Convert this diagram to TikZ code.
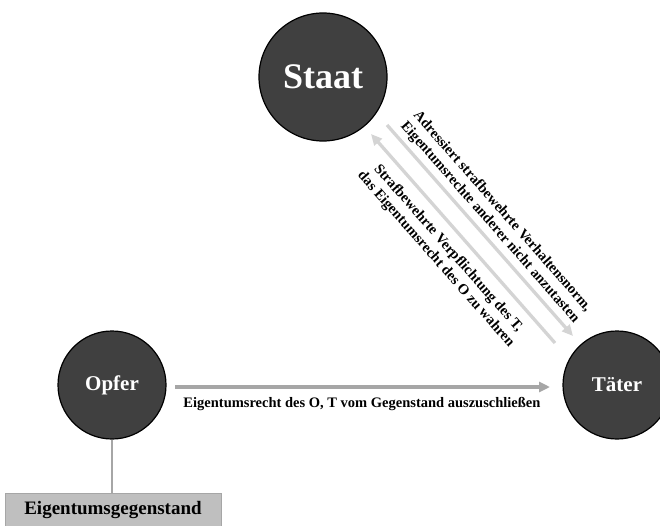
\documentclass[tikz,border=0pt]{standalone}
\usepackage{fontspec}
\setmainfont{Liberation Serif}
\usetikzlibrary{arrows.meta}
\definecolor{disc}{HTML}{404040}
\definecolor{flowgray}{HTML}{A6A6A6}
\definecolor{normgray}{HTML}{D4D4D4}
\definecolor{itemgray}{HTML}{BFBFBF}
\definecolor{itemline}{HTML}{A6A6A6}

\begin{document}
\begin{tikzpicture}[x=1pt,y=-1pt,
  party/.style={circle, draw=black, line width=1.2pt, fill=disc, text=white,
    inner sep=0pt},
  flow/.style={draw=flowgray, line width=3.3pt, -{Triangle[length=11pt,width=10pt]}},
  norm/.style={draw=normgray, line width=3.3pt, -{Triangle[length=11pt,width=10pt]}},
  lbl/.style={font=\bfseries\fontsize{14.5}{16.5}\selectfont, align=center, inner sep=0pt},
  itembox/.style={rectangle, fill=itemgray, draw=itemline, line width=0.8pt,
    font=\bfseries\fontsize{19}{22}\selectfont, inner sep=0pt}]
  \useasboundingbox (0,0) rectangle (660,526);
  \clip (0,0) rectangle (660,526);

  % parties
  \node[party, minimum size=128pt, font=\bfseries\fontsize{36}{40}\selectfont] (staat) at (323,77) {Staat};
  \node[party, minimum size=108pt, font=\bfseries\fontsize{21}{24}\selectfont] (opfer) at (112,385) {Opfer};
  \node[party, minimum size=108pt, font=\bfseries\fontsize{21}{24}\selectfont] (taeter) at (617,385) {Täter};

  % object of property
  \node[itembox, minimum width=216pt, minimum height=40pt, anchor=north west] (gegenstand) at (5,493) {};
  \node[font=\bfseries\fontsize{19}{22}\selectfont, inner sep=0pt] (gegtext) at (113,510) {Eigentumsgegenstand};
  \draw[itemline, line width=1.2pt] (opfer.south) -- (opfer.south |- gegenstand.north);

  % end points of the arrows
  \coordinate (hstart) at (175,387);
  \coordinate (hend) at (550,387);
  \coordinate (dstart) at (387,125);
  \coordinate (dend) at (573,336);
  \coordinate (ustart) at (555,343);
  \coordinate (uend) at (371,134);

  \draw[flow] (hstart) -- (hend);
  \draw[norm] (dstart) -- (dend);
  \draw[norm] (ustart) -- (uend);

  % labels
  \node[lbl] (hlabel) at (362,404) {Eigentumsrecht des O, T vom Gegenstand auszuschließen};
  \node[lbl, rotate=-48.6] (dlabel) at (496,217)
    {Adressiert strafbewehrte Verhaltensnorm,\\Eigentumsrechte anderer nicht anzutasten};
  \node[lbl, rotate=-48.6] (ulabel) at (442,254)
    {Strafbewehrte Verpflichtung des T,\\das Eigentumsrecht des O zu wahren};
\end{tikzpicture}
\end{document}
